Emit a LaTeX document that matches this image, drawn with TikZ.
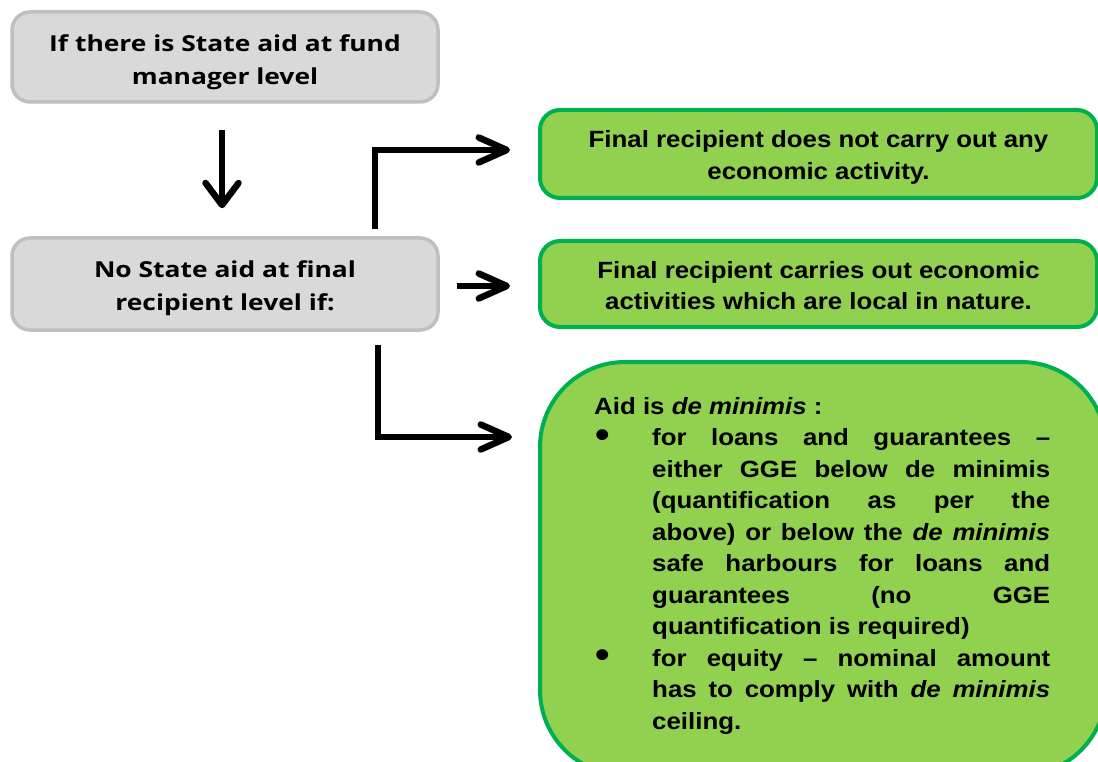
\documentclass[tikz,border=0pt]{standalone}
\usepackage{fontspec}
\setmainfont{Liberation Sans}
\newfontfamily\grayfont[FakeStretch=1.2]{Open Sans}
\newfontfamily\greenfont[FakeStretch=1.1]{Liberation Sans}
\usetikzlibrary{arrows.meta}
\definecolor{grayfill}{HTML}{D9D9D9}
\definecolor{grayline}{HTML}{BFBFBF}
\definecolor{greenfill}{HTML}{92D050}
\definecolor{greenline}{HTML}{00B050}
\newcommand\jline[1]{\makebox[398pt][s]{#1}}
\newcommand\bul{\makebox[58pt][l]{\hspace{1pt}\raisebox{-1.5pt}{\scalebox{1.6}{\textbullet}}}}
\newcommand\ind{\hspace*{58pt}}
\tikzset{
  graybox/.style={draw=grayline, fill=grayfill, line width=3.5pt, rounded corners=18pt,
    minimum width=426pt, minimum height=90pt, inner sep=0pt},
  graytext/.style={align=center, inner sep=0pt,
    font=\grayfont\bfseries\fontsize{22}{33}\selectfont},
  greenbox/.style={draw=greenline, fill=greenfill, line width=4pt, rounded corners=20pt,
    minimum width=557pt, minimum height=88pt, inner sep=0pt},
  greentext/.style={align=center, inner sep=0pt,
    font=\greenfont\bfseries\fontsize{23.5}{31.5}\selectfont},
  bigbox/.style={draw=greenline, fill=greenfill, line width=4pt, rounded corners=85pt,
    minimum width=566pt, minimum height=413pt, inner sep=0pt},
  bigtext/.style={anchor=north west, align=left, inner sep=0pt,
    font=\greenfont\bfseries\fontsize{23.5}{31.5}\selectfont},
  conn/.style={line width=6.5pt},
  darr/.style={conn, -{Straight Barb[length=22pt,width=33pt,round]}},
  rarr/.style={conn, -{Straight Barb[length=28pt,width=25pt,round]}},
}
\begin{document}
\begin{tikzpicture}[x=1pt,y=-1pt]
\useasboundingbox (0,0) rectangle (1098,762);
\clip (0,0) rectangle (1098,762);
\node[graybox] (g1) at (225,57) {};
\node[graytext] (g1t) at ([yshift=-5pt]g1.center) {If there is State aid at fund\\manager level};
\node[graybox, minimum height=92pt] (g2) at (225,284) {};
\node[graytext] (g2t) at ([yshift=-4pt]g2.center) {No State aid at final\\recipient level if:};
\node[greenbox] (r1) at (818.5,154) {};
\node[greentext] (r1t) at ([yshift=-3.5pt]r1.center) {Final recipient does not carry out any\\economic activity.};
\node[greenbox, minimum height=86pt] (r2) at (818.5,284) {};
\node[greentext] (r2t) at ([yshift=-1.5pt]r2.center) {Final recipient carries out economic\\activities which are local in nature.};
\node[bigbox] (r3) at (823,568.5) {};
\node[bigtext] (t3) at (594,397) {Aid is \textit{de minimis} :\\
\bul\jline{for loans and guarantees –}\\
\ind\jline{either GGE below de minimis}\\
\ind\jline{(quantification as per the}\\
\ind\jline{above) or below the \textit{de minimis}}\\
\ind\jline{safe harbours for loans and}\\
\ind\jline{guarantees (no GGE}\\
\ind quantification is required)\\
\bul\jline{for equity – nominal amount}\\
\ind\jline{has to comply with \textit{de minimis}}\\
\ind ceiling.};
\coordinate (e1) at (375,229);
\coordinate (e3) at (378,345);
\coordinate (e3end) at (512,437);
\draw[darr, shorten <=26pt, shorten >=28pt] ([xshift=-3pt]g1.south) -- ([xshift=-3pt]g2.north);
\draw[rarr, shorten >=28pt] (e1) |- ([yshift=4pt]r1.west);
\draw[rarr, shorten <=17pt, shorten >=28pt] ([yshift=-2pt]g2.east) -- ([yshift=-2pt]r2.west);
\draw[rarr] (e3) |- (e3end);
\end{tikzpicture}
\end{document}
